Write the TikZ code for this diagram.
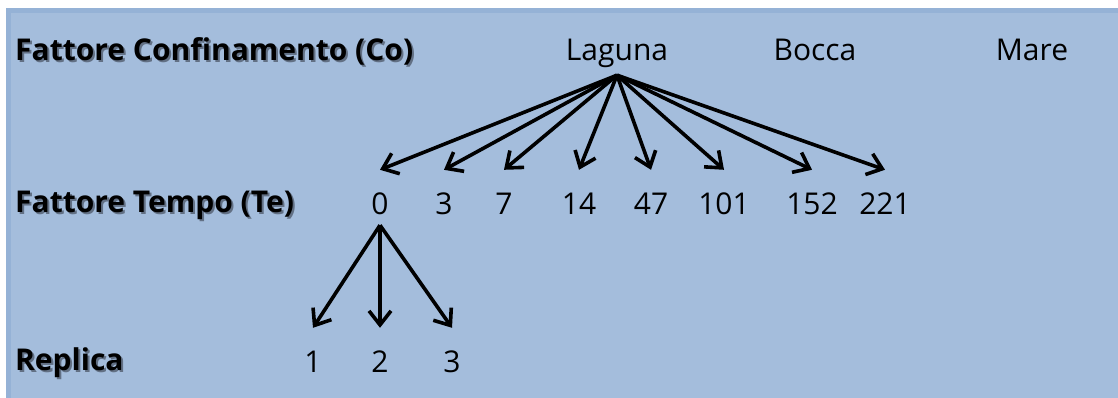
\documentclass[tikz,border=0pt]{standalone}
\usepackage{fontspec}
\setmainfont{Open Sans}
\usetikzlibrary{arrows.meta,positioning}
\definecolor{panel}{RGB}{164,189,220}
\definecolor{panelrim}{RGB}{149,178,214}
\definecolor{shade}{RGB}{98,112,132}
\newcommand{\shadowed}[1]{\rlap{\hspace{2pt}\raisebox{-2pt}{\textcolor{shade}{#1}}}#1}

\begin{document}
\begin{tikzpicture}[x=1pt,y=-1pt,
    >={Straight Barb[length=14pt,width=22pt]},
    lbl/.style={anchor=west,inner sep=0pt,font=\fontsize{30}{36}\selectfont\bfseries},
    val/.style={inner xsep=0pt,inner ysep=23.5pt,text height=21pt,text depth=0pt,
                font=\fontsize{30}{36}\selectfont},
    fan/.style={every edge/.style={draw,line width=3.6pt}}]
   \useasboundingbox (0,0) rectangle (1118,398);
   \fill[panel] (6,8) rectangle (1118,398);
   \draw[panelrim,line width=5pt] (8.5,398) -- (8.5,10.5) -- (1118,10.5);

   \node[lbl] (co) at (15,52) {\shadowed{Fattore Confinamento (Co)}};
   \node[lbl] (te) at (15,206) {\shadowed{Fattore Tempo (Te)}};
   \node[lbl] (rep) at (15,364) {\shadowed{Replica}};

   \node[val] (lag) at (617,50) {Laguna};
   \node[val] (boc) at (815,50) {Bocca};
   \node[val] (mar) at (1032,50) {Mare};

   \node[val] (t0) at (380,204) {0};
   \node[val] (t3) at (444,204) {3};
   \node[val] (t7) at (504,204) {7};
   \node[val] (t14) at (579,204) {14};
   \node[val] (t47) at (651,204) {47};
   \node[val] (t101) at (724,204) {101};
   \node[val] (t152) at (812,204) {152};
   \node[val] (t221) at (885,204) {221};

   \node[val] (r1) at (313,362) {1};
   \node[val] (r2) at (380,362) {2};
   \node[val] (r3) at (452,362) {3};

   \path[->,fan]
       ([yshift=9pt]lag.south) edge (t0.north)
                               edge (t3.north)
                               edge (t7.north)
                               edge (t14.north)
                               edge (t47.north)
                               edge (t101.north)
                               edge (t152.north)
                               edge (t221.north)
       ([yshift=13pt]t0.south) edge (r1.north)
                               edge (r2.north)
                               edge (r3.north);
\end{tikzpicture}
\end{document}
